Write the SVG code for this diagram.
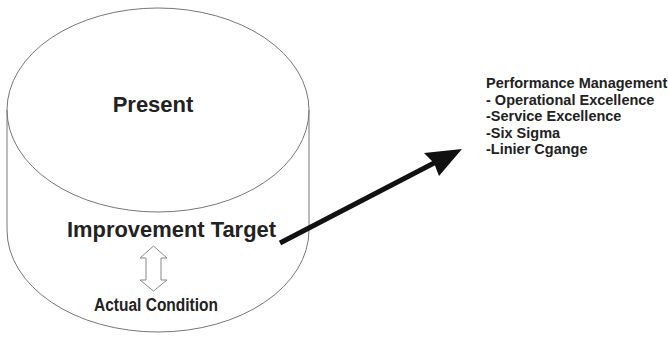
<svg xmlns="http://www.w3.org/2000/svg" width="668" height="337" viewBox="0 0 668 337">
<style>
.outline{fill:none;stroke:#777;stroke-width:1}
.lbl{font-family:"Liberation Sans",Arial,sans-serif;font-weight:bold;fill:#222}
.list{font-family:"Liberation Sans",Arial,sans-serif;font-weight:bold;fill:#222;font-size:14.5px}
</style>
<rect width="668" height="337" fill="#fff"/>
<g id="cylinder">
<path class="outline" d="M7,110 L7,230 A151,102 0 0 0 309,230 L309,110"/>
<ellipse class="outline" cx="158" cy="110" rx="151" ry="102" fill="#fff"/>
<text class="lbl" x="153" y="112" font-size="22" text-anchor="middle">Present</text>
<text class="lbl" x="67" y="237" font-size="22" textLength="209" lengthAdjust="spacingAndGlyphs">Improvement Target</text>
<text class="lbl" x="94" y="311" font-size="18" textLength="124" lengthAdjust="spacingAndGlyphs">Actual Condition</text>
</g>
<g id="performance-management">
<text class="list" x="486" y="88">Performance Management</text>
<text class="list" x="486" y="105">- Operational Excellence</text>
<text class="list" x="486" y="121">-Service Excellence</text>
<text class="list" x="486" y="138">-Six Sigma</text>
<text class="list" x="486" y="154">-Linier Cgange</text>
</g>
<g id="connectors">
<path d="M153.5,246 L167,258 L161,258 L161,280 L167,280 L153.5,291 L140,280 L146,280 L146,258 L140,258 Z" fill="#fff" stroke="#888" stroke-width="1"/>
<line x1="280" y1="243" x2="436" y2="162" stroke="#111" stroke-width="5"/>
<polygon points="462,149 424,153 434,163 439,176" fill="#111"/>
</g>
</svg>
